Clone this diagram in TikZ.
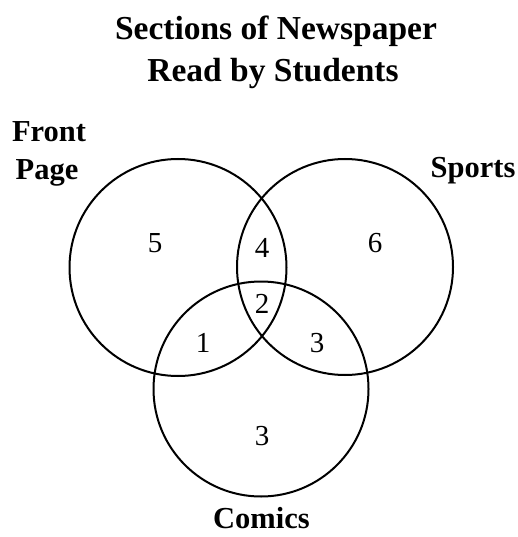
\documentclass[tikz,border=0pt]{standalone}
\usepackage{fontspec}
\setmainfont{Liberation Serif}
\begin{document}
\begin{tikzpicture}[x=1pt,y=-1pt,
  ring/.style={draw,line width=2pt},
  ttl/.style={anchor=base,font=\fontsize{33.5}{38}\selectfont\bfseries,inner sep=0pt},
  setlab/.style={anchor=base,font=\fontsize{30.5}{34}\selectfont\bfseries,inner sep=0pt},
  num/.style={anchor=base,font=\fontsize{29}{32}\selectfont,inner sep=0pt}]
\useasboundingbox (0,0) rectangle (517,537);
\node[ttl] (t1) at (276,39.5) {Sections of Newspaper};
\node[ttl] (t2) at (273,82) {Read by Students};
\draw[ring] (178,267.5) circle (108.5);
\draw[ring] (345,267) circle (108);
\draw[ring] (261,389) circle (107.5);
\node[setlab] (fp1) at (49,142) {Front};
\node[setlab] (fp2) at (47,180) {Page};
\node[setlab] (sp) at (473,178) {Sports};
\node[setlab] (cm) at (261.5,528) {Comics};
\node[num] (n5) at (155,252) {5};
\node[num] (n4) at (262,257) {4};
\node[num] (n6) at (375,252) {6};
\node[num] (n2) at (262,313) {2};
\node[num] (n1) at (203,352) {1};
\node[num] (n3a) at (317,352) {3};
\node[num] (n3b) at (262,445) {3};
\end{tikzpicture}
\end{document}
